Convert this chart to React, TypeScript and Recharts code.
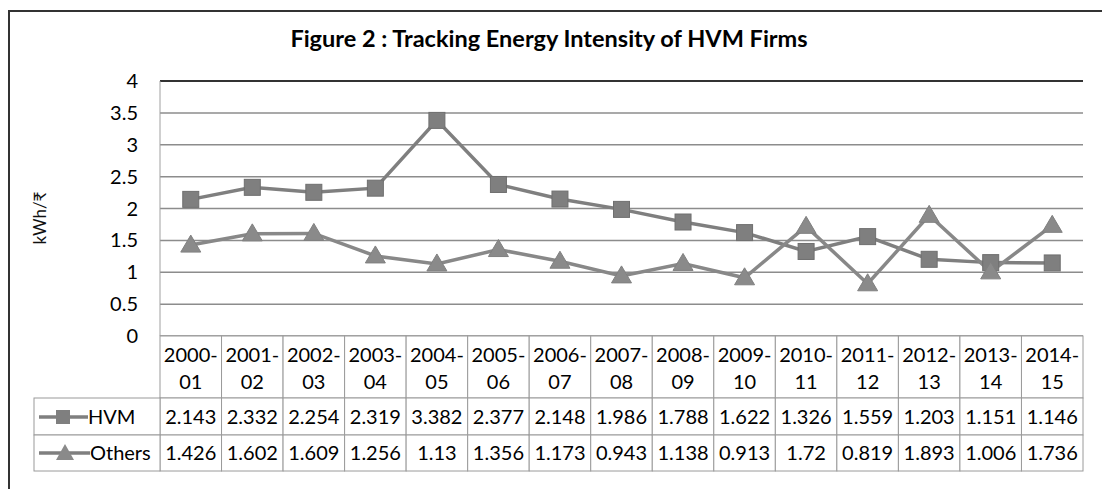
import { CartesianGrid, Line, LineChart, ReferenceLine, XAxis, YAxis } from "recharts";

const YEARS = [
	"2000-01", "2001-02", "2002-03", "2003-04", "2004-05", "2005-06", "2006-07", "2007-08",
	"2008-09", "2009-10", "2010-11", "2011-12", "2012-13", "2013-14", "2014-15",
];
const HVM = [2.143, 2.332, 2.254, 2.319, 3.382, 2.377, 2.148, 1.986, 1.788, 1.622, 1.326, 1.559, 1.203, 1.151, 1.146];
const OTHERS = [1.426, 1.602, 1.609, 1.256, 1.13, 1.356, 1.173, 0.943, 1.138, 0.913, 1.72, 0.819, 1.893, 1.006, 1.736];
const Y_TICKS = [0, 0.5, 1, 1.5, 2, 2.5, 3, 3.5, 4];

const W = 1102;
const H = 489;
const PLOT_LEFT = 160;
const PLOT_RIGHT = 1083;
const PLOT_TOP = 81;
const PLOT_BOTTOM = 336;
const COL_W = (PLOT_RIGHT - PLOT_LEFT) / YEARS.length;
const HEAD_H = 62;
const ROW_H = 37;
const LEGEND_W = 126;

const FONT = "Lato, 'Noto Sans', sans-serif";
const GRAY = "#7f7f7f";
const CELL = "#9a9a9a";

const data = YEARS.map((year, i) => ({ year, hvm: HVM[i], others: OTHERS[i] }));

const square = (p: any) => (
	<rect key={`s${p.index}`} x={p.cx - 8} y={p.cy - 8} width={16} height={16} fill={GRAY} stroke="#6f6f6f" />
);

const triangle = (p: any) => (
	<polygon
		key={`t${p.index}`}
		points={`${p.cx},${p.cy - 10} ${p.cx - 10},${p.cy + 7} ${p.cx + 10},${p.cy + 7}`}
		fill="#8a8a8a"
		stroke="#808080"
	/>
);

function TableTick(props: any) {
	const { x, y, payload } = props;
	const i = payload.index;
	const left = x - COL_W / 2;
	const [a, b] = YEARS[i].split("-");
	const txt = { fontFamily: FONT, fontSize: 20, fill: "#000", textAnchor: "middle" as const };
	return (
		<g>
			<rect x={left} y={y} width={COL_W} height={HEAD_H} fill="#fff" stroke={CELL} />
			<rect x={left} y={y + HEAD_H} width={COL_W} height={ROW_H} fill="#fff" stroke={CELL} />
			<rect x={left} y={y + HEAD_H + ROW_H} width={COL_W} height={ROW_H - 1} fill="#fff" stroke={CELL} />
			<text x={x} y={y + 26} {...txt}>{a}-</text>
			<text x={x} y={y + 53} {...txt}>{b}</text>
			<text x={x} y={y + HEAD_H + 26} {...txt}>{String(HVM[i])}</text>
			<text x={x} y={y + HEAD_H + ROW_H + 25} {...txt}>{String(OTHERS[i])}</text>
			{i === 0 && (
				<g>
					<rect x={left - LEGEND_W} y={y + HEAD_H} width={LEGEND_W} height={ROW_H} fill="#fff" stroke={CELL} />
					<rect x={left - LEGEND_W} y={y + HEAD_H + ROW_H} width={LEGEND_W} height={ROW_H - 1} fill="#fff" stroke={CELL} />
					<line x1={left - LEGEND_W + 5} x2={left - LEGEND_W + 54} y1={y + HEAD_H + 19} y2={y + HEAD_H + 19} stroke={GRAY} strokeWidth={3.5} />
					<rect x={left - LEGEND_W + 22} y={y + HEAD_H + 12} width={14} height={14} fill={GRAY} />
					<text x={left - LEGEND_W + 54} y={y + HEAD_H + 26} fontFamily={FONT} fontSize={20} fill="#000">HVM</text>
					<line x1={left - LEGEND_W + 5} x2={left - LEGEND_W + 56} y1={y + HEAD_H + ROW_H + 18} y2={y + HEAD_H + ROW_H + 18} stroke={GRAY} strokeWidth={3.5} />
					<polygon
						points={`${left - LEGEND_W + 31},${y + HEAD_H + ROW_H + 9} ${left - LEGEND_W + 22},${y + HEAD_H + ROW_H + 25} ${left - LEGEND_W + 40},${y + HEAD_H + ROW_H + 25}`}
						fill="#8a8a8a"
					/>
					<text x={left - LEGEND_W + 56} y={y + HEAD_H + ROW_H + 25} fontFamily={FONT} fontSize={20} fill="#000">Others</text>
				</g>
			)}
		</g>
	);
}

export default function App() {
	return (
		<div style={{ position: "absolute", left: 0, top: 0, width: W, height: H, overflow: "hidden", background: "#fff" }}>
			<svg width={W} height={H} style={{ position: "absolute", left: 0, top: 0 }}>
				<path d={`M9 ${H + 5} V11 H${W + 5}`} fill="none" stroke="#333" strokeWidth={2} />
				<text x={549} y={47} textAnchor="middle" fontFamily={FONT} fontWeight={700} fontSize={23.5} fill="#000">
					Figure 2 : Tracking Energy Intensity of HVM Firms
				</text>
				<text
					x={46}
					y={218}
					transform="rotate(-90 46 218)"
					textAnchor="middle"
					fontFamily={FONT}
					fontSize={17}
					fill="#111"
				>
					kWh/₹
				</text>
			</svg>
			<div style={{ position: "absolute", left: 0, top: 0 }}>
				<LineChart
					width={W}
					height={H}
					data={data}
					margin={{ top: PLOT_TOP, right: W - PLOT_RIGHT, bottom: H - PLOT_BOTTOM - 150, left: PLOT_LEFT - 60 }}
				>
					<CartesianGrid vertical={false} stroke="#8c8c8c" strokeWidth={1.5} />
					<XAxis
						dataKey="year"
						scale="band"
						interval={0}
						axisLine={false}
						tickLine={false}
						tickSize={0}
						tickMargin={0}
						height={150}
						tick={<TableTick />}
					/>
					<YAxis
						domain={[0, 4]}
						ticks={Y_TICKS}
						width={60}
						axisLine={{ stroke: "#a0a0a0" }}
						tickLine={false}
						tickSize={0}
						tickMargin={22}
						tick={{ fill: "#000", fontSize: 20, fontFamily: FONT }}
					/>
					<YAxis
						yAxisId="r"
						orientation="right"
						domain={[0, 4]}
						width={0}
						tick={false}
						tickLine={false}
						axisLine={{ stroke: "#333", strokeWidth: 2 }}
					/>
					<ReferenceLine y={4} stroke="#333" strokeWidth={2} />
					<Line
						type="linear"
						dataKey="hvm"
						stroke={GRAY}
						strokeWidth={3.5}
						dot={square}
						activeDot={false}
						isAnimationActive={false}
					/>
					<Line
						type="linear"
						dataKey="others"
						stroke="#888"
						strokeWidth={3.5}
						dot={triangle}
						activeDot={false}
						isAnimationActive={false}
					/>
				</LineChart>
			</div>
		</div>
	);
}
